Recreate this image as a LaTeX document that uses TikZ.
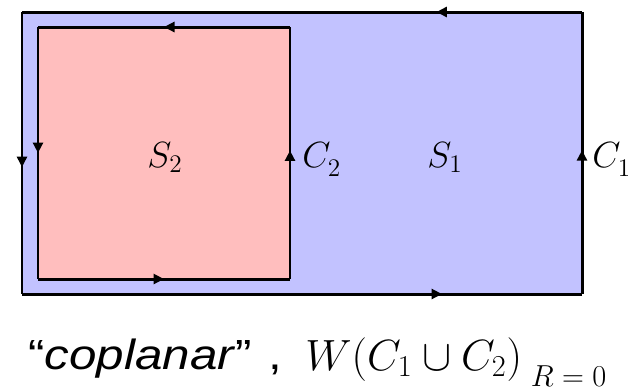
\documentclass[tikz,border=0pt]{standalone}
\usepackage{amsmath,amssymb}
\usepackage{fontspec}
\setsansfont{Liberation Sans}
\usepackage{tikz}
\usetikzlibrary{arrows.meta,decorations.markings}

\definecolor{surfone}{RGB}{194,194,255}
\definecolor{surftwo}{RGB}{255,190,190}
\newcommand{\lowsub}[1]{_{\lower2.5pt\hbox{$\scriptstyle #1$}}}

\begin{document}
\begin{tikzpicture}[x=0.02cm, y=-0.02cm, line join=miter,
  loopline/.style={line width=1.7pt},
  midarrow/.style={postaction=decorate, decoration={markings,
    mark=at position #1 with {\arrow{Triangle[length=2.1mm, width=2mm]}}}},
  lbl/.style={inner sep=0pt, anchor=base west, font=\fontsize{21}{25}\selectfont}]
\useasboundingbox (0,0) rectangle (628,390);
% corners of the two loops
\coordinate (ao) at (22,12);  \coordinate (bo) at (582,12);
\coordinate (co) at (582,294); \coordinate (do) at (22,294);
\coordinate (ai) at (38,27);  \coordinate (bi) at (290,27);
\coordinate (ci) at (290,279); \coordinate (di) at (38,279);
\fill[surfone] (ao) rectangle (co);
\fill[surftwo] (ai) rectangle (ci);
% C_1
\draw[loopline, midarrow=0.26] (bo) -- (ao);
\draw[loopline, midarrow=0.55] (ao) -- (do);
\draw[loopline, midarrow=0.75] (do) -- (co);
\draw[loopline, midarrow=0.51] (co) -- (bo);
% C_2
\draw[loopline, midarrow=0.50] (bi) -- (ai);
\draw[loopline, midarrow=0.50] (ai) -- (di);
\draw[loopline, midarrow=0.50] (di) -- (ci);
\draw[loopline, midarrow=0.51] (ci) -- (bi);
\node[lbl] (s2) at (147,167) {$S_2$};
\node[lbl] (c2) at (302,167) {$C\lowsub{2}$};
\node[lbl] (s1) at (427,167) {$S_1$};
\node[lbl] (c1) at (592,167) {$C\lowsub{1}$};
\node[lbl, font=\fontsize{24}{28}\selectfont\sffamily] (cop) at (28,369)
  {\scalebox{1.17}[1]{“\textit{coplanar}”\hspace{8pt},}};
\node[lbl, font=\fontsize{25}{29}\selectfont] (wil) at (305,370)
  {$W(C_1\cup C_2)\hspace{5pt}\lower9.5pt\hbox{$\scriptstyle R\;=\;0$}$};
\end{tikzpicture}
\end{document}
